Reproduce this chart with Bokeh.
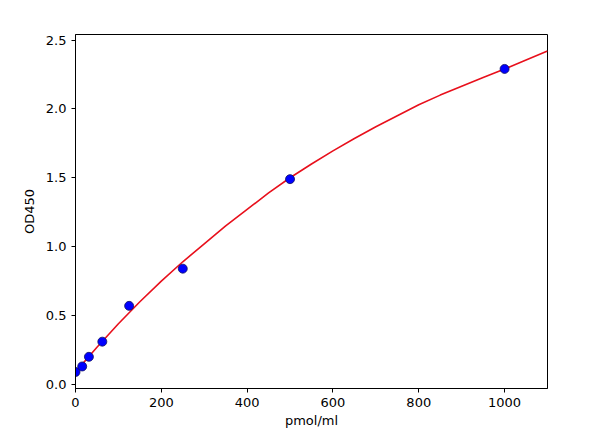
from bokeh.plotting import figure
from bokeh.models import Range1d, FixedTicker, NumeralTickFormatter
from bokeh.embed import file_html
from bokeh.resources import INLINE

# standards (pmol/ml) and measured OD450
conc = [0, 15.6, 31.25, 62.5, 125, 250, 500, 1000]
od = [0.09, 0.13, 0.20, 0.31, 0.57, 0.84, 1.49, 2.29]

# fitted curve
curve_x = [0, 50, 100, 150, 200, 250, 300, 350, 400, 450, 500, 550,
           600, 650, 700, 750, 800, 850, 900, 950, 1000, 1050, 1100]
curve_y = [0.09, 0.27, 0.44, 0.60, 0.75, 0.89, 1.02, 1.15, 1.27, 1.39, 1.50, 1.60,
           1.695, 1.785, 1.87, 1.95, 2.03, 2.10, 2.165, 2.228, 2.29, 2.355, 2.42]

x_ticks = [0, 200, 400, 600, 800, 1000]
y_ticks = [0.0, 0.5, 1.0, 1.5, 2.0, 2.5]

p = figure(width=600, height=439, output_backend="svg", toolbar_location=None,
           x_range=Range1d(0, 1100), y_range=Range1d(-0.03, 2.54),
           min_border_left=75, min_border_right=53, min_border_top=34, min_border_bottom=51)

p.background_fill_color = "white"
p.border_fill_color = "white"
p.outline_line_color = "black"
p.outline_line_width = 1
p.xgrid.visible = False
p.ygrid.visible = False

p.line(curve_x, curve_y, line_color="#e8101c", line_width=1.6)
p.scatter(conc, od, size=9, fill_color="#0000ff", line_color="#101060", line_width=0.8)

for ax in (p.xaxis[0], p.yaxis[0]):
    ax.axis_line_color = "black"
    ax.major_tick_line_color = "black"
    ax.major_tick_out = 4
    ax.major_tick_in = 0
    ax.minor_tick_line_color = None
    ax.major_label_text_font = "DejaVu Sans"
    ax.major_label_text_font_size = "13px"
    ax.major_label_text_color = "black"
    ax.axis_label_text_font = "DejaVu Sans"
    ax.axis_label_text_font_size = "13px"
    ax.axis_label_text_font_style = "normal"
    ax.axis_label_text_color = "black"

p.xaxis.ticker = FixedTicker(ticks=x_ticks)
p.yaxis.ticker = FixedTicker(ticks=y_ticks)
p.yaxis.formatter = NumeralTickFormatter(format="0.0")
p.xaxis.formatter = NumeralTickFormatter(format="0")
p.xaxis.axis_label = "pmol/ml"
p.yaxis.axis_label = "OD450"
p.xaxis.axis_label_standoff = 3
p.yaxis.axis_label_standoff = 6

open("out.html", "w").write(file_html(p, INLINE))
